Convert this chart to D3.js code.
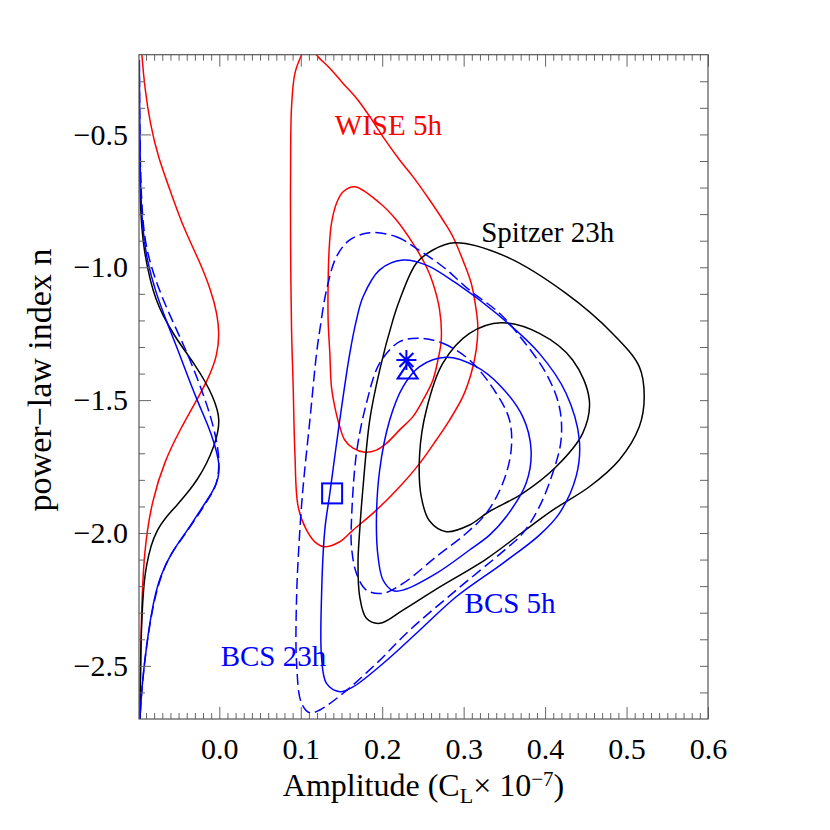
<!DOCTYPE html>
<html><head><meta charset="utf-8">
<script src="https://cdn.jsdelivr.net/npm/d3@7"></script>
<style>body{margin:0;background:#fff} svg{display:block}</style>
</head><body>
<svg id="c" width="830" height="830"></svg>
<script>
// ---------- data ----------
const xDomain = [-0.0986, 0.6];
const yDomain = [-2.7, -0.2];
const xTickValues = [0.0, 0.1, 0.2, 0.3, 0.4, 0.5, 0.6];
const xTickLabels = ["0.0", "0.1", "0.2", "0.3", "0.4", "0.5", "0.6"];
const yTickValues = [-0.5, -1.0, -1.5, -2.0, -2.5];
const yTickLabels = ["\u22120.5", "\u22121.0", "\u22121.5", "\u22122.0", "\u22122.5"];

// 2D confidence contours [amplitude, n]
const wiseOuter = [[0.110,-0.152],[0.101,-0.201],[0.0928,-0.270],[0.0887,-0.396],[0.0875,-0.646],[0.0875,-0.897],[0.0887,-1.236],[0.0907,-1.450],[0.0928,-1.700],[0.0968,-1.901],[0.1071,-1.989],[0.1194,-2.039],[0.1295,-2.052],[0.1479,-2.033],[0.1642,-1.989],[0.1929,-1.914],[0.2214,-1.826],[0.2460,-1.738],[0.2664,-1.650],[0.2827,-1.575],[0.2990,-1.487],[0.3093,-1.399],[0.3154,-1.311],[0.3174,-1.224],[0.3154,-1.161],[0.3093,-1.060],[0.2990,-0.973],[0.2868,-0.885],[0.2745,-0.822],[0.2582,-0.747],[0.2377,-0.659],[0.2214,-0.596],[0.2010,-0.509],[0.1847,-0.433],[0.1684,-0.364],[0.1520,-0.308],[0.1357,-0.251],[0.1194,-0.201]];
const wiseInner = [[0.1663,-0.697],[0.1969,-0.758],[0.2174,-0.822],[0.2377,-0.910],[0.2542,-0.998],[0.2623,-1.060],[0.2705,-1.161],[0.2725,-1.274],[0.2684,-1.349],[0.2623,-1.424],[0.2500,-1.500],[0.2377,-1.562],[0.2214,-1.612],[0.2051,-1.663],[0.1929,-1.688],[0.1786,-1.696],[0.1642,-1.681],[0.1540,-1.650],[0.1479,-1.600],[0.1418,-1.525],[0.1377,-1.450],[0.1357,-1.324],[0.1336,-1.198],[0.1336,-1.060],[0.1348,-0.935],[0.1377,-0.835],[0.1439,-0.759],[0.1520,-0.716]];
const spitzerOuter = [[0.2888,-0.908],[0.3522,-0.960],[0.4257,-1.098],[0.4828,-1.249],[0.5156,-1.374],[0.5217,-1.487],[0.5156,-1.600],[0.4910,-1.725],[0.4543,-1.826],[0.4093,-1.914],[0.3710,-2.000],[0.3277,-2.098],[0.2664,-2.211],[0.2255,-2.290],[0.1969,-2.340],[0.1806,-2.321],[0.1724,-2.240],[0.1703,-2.114],[0.1724,-1.989],[0.1765,-1.826],[0.1847,-1.575],[0.1969,-1.387],[0.2132,-1.198],[0.2214,-1.123],[0.2419,-0.985],[0.2623,-0.935]];
const spitzerInner = [[0.3461,-1.209],[0.3930,-1.249],[0.4338,-1.349],[0.4543,-1.500],[0.4461,-1.625],[0.4135,-1.751],[0.3725,-1.851],[0.3305,-1.921],[0.3072,-1.970],[0.2787,-1.995],[0.2582,-1.955],[0.2480,-1.864],[0.2460,-1.700],[0.2542,-1.537],[0.2745,-1.361],[0.3072,-1.249]];
const bcsSolidOuter = [[0.2255,-0.973],[0.2542,-0.992],[0.2909,-1.060],[0.3400,-1.173],[0.3929,-1.324],[0.4257,-1.474],[0.4420,-1.650],[0.4380,-1.788],[0.4175,-1.926],[0.3930,-2.008],[0.3480,-2.114],[0.2909,-2.240],[0.2460,-2.366],[0.2010,-2.491],[0.1642,-2.579],[0.1479,-2.597],[0.1316,-2.566],[0.1255,-2.466],[0.1255,-2.240],[0.1295,-1.989],[0.1357,-1.851],[0.1479,-1.575],[0.1602,-1.324],[0.1684,-1.198],[0.1765,-1.111],[0.1969,-1.010]];
const bcsDashedOuter = [[0.1847,-0.870],[0.2174,-0.885],[0.2419,-0.929],[0.2745,-0.998],[0.3072,-1.086],[0.3440,-1.173],[0.3725,-1.274],[0.4012,-1.399],[0.4175,-1.525],[0.4196,-1.650],[0.4093,-1.775],[0.3930,-1.901],[0.3725,-2.001],[0.3480,-2.070],[0.2909,-2.215],[0.2337,-2.366],[0.1929,-2.491],[0.1520,-2.603],[0.1234,-2.666],[0.1112,-2.677],[0.1010,-2.641],[0.0949,-2.491],[0.0949,-2.240],[0.0989,-1.989],[0.1029,-1.826],[0.1112,-1.575],[0.1194,-1.324],[0.1234,-1.236],[0.1316,-1.086],[0.1439,-0.960],[0.1602,-0.897]];
const bcsSolidInner = [[0.2787,-1.339],[0.3154,-1.374],[0.3440,-1.443],[0.3725,-1.562],[0.3828,-1.688],[0.3767,-1.813],[0.3522,-1.939],[0.3317,-2.008],[0.3072,-2.064],[0.2664,-2.152],[0.2255,-2.215],[0.2132,-2.217],[0.2010,-2.177],[0.1949,-2.089],[0.1929,-1.951],[0.1969,-1.763],[0.2092,-1.575],[0.2255,-1.450],[0.2460,-1.374]];
const bcsDashedInner = [[0.2460,-1.267],[0.2745,-1.286],[0.3072,-1.349],[0.3400,-1.474],[0.3563,-1.575],[0.3583,-1.688],[0.3480,-1.813],[0.3277,-1.926],[0.3032,-2.001],[0.2664,-2.089],[0.2255,-2.190],[0.2010,-2.227],[0.1806,-2.215],[0.1684,-2.152],[0.1623,-2.052],[0.1623,-1.951],[0.1684,-1.700],[0.1806,-1.512],[0.1969,-1.361],[0.2214,-1.280]];

// 1D marginal distributions of n (drawn along the left margin, peak at amplitude 0)
const wiseMarginal = [[-0.0958,-0.145],[-0.0953,-0.201],[-0.0912,-0.333],[-0.0851,-0.457],[-0.0753,-0.585],[-0.0605,-0.709],[-0.0446,-0.848],[-0.0249,-0.973],[-0.0102,-1.086],[-0.0022,-1.180],[0.0000,-1.251],[-0.0022,-1.330],[-0.0139,-1.424],[-0.0311,-1.518],[-0.0483,-1.612],[-0.0667,-1.725],[-0.0826,-1.876],[-0.0925,-2.064],[-0.0961,-2.328],[-0.0974,-2.700]];
const spitzerMarginal = [[-0.0984,-0.371],[-0.0974,-0.747],[-0.0953,-0.848],[-0.0925,-0.935],[-0.0851,-1.048],[-0.0777,-1.123],[-0.0691,-1.183],[-0.0556,-1.255],[-0.0446,-1.304],[-0.0298,-1.368],[-0.0176,-1.428],[-0.0077,-1.488],[-0.0022,-1.537],[0.0000,-1.575],[-0.0016,-1.620],[-0.0059,-1.669],[-0.0155,-1.740],[-0.0274,-1.801],[-0.0372,-1.842],[-0.0519,-1.895],[-0.0667,-1.944],[-0.0765,-1.989],[-0.0839,-2.045],[-0.0894,-2.120],[-0.0931,-2.196],[-0.0965,-2.403],[-0.0974,-2.700]];
const bcsSolidMarginal = [[-0.0982,-0.220],[-0.0974,-0.672],[-0.0943,-0.860],[-0.0888,-0.973],[-0.0790,-1.086],[-0.0655,-1.199],[-0.0507,-1.311],[-0.0372,-1.424],[-0.0249,-1.518],[-0.0139,-1.594],[-0.0053,-1.669],[-0.0010,-1.725],[0.0000,-1.755],[-0.0010,-1.793],[-0.0065,-1.838],[-0.0225,-1.910],[-0.0397,-1.993],[-0.0593,-2.075],[-0.0728,-2.162],[-0.0814,-2.263],[-0.0891,-2.413],[-0.0953,-2.583],[-0.0974,-2.700]];
const bcsDashedMarginal = [[-0.0982,-0.220],[-0.0974,-0.634],[-0.0937,-0.860],[-0.0863,-0.973],[-0.0740,-1.086],[-0.0581,-1.199],[-0.0409,-1.311],[-0.0262,-1.424],[-0.0151,-1.518],[-0.0077,-1.594],[-0.0022,-1.669],[0.0000,-1.733],[-0.0016,-1.793],[-0.0059,-1.838],[-0.0213,-1.910],[-0.0391,-1.993],[-0.0593,-2.075],[-0.0720,-2.162],[-0.0808,-2.263],[-0.0891,-2.413],[-0.0953,-2.583],[-0.0974,-2.700]];

// best-fit markers
const starPoint = [0.2297, -1.349];
const trianglePoint = [0.2313, -1.390];
const squarePoint = [0.1385, -1.851];

// annotations
const labelTexts = ["WISE 5h", "Spitzer 23h", "BCS 5h", "BCS 23h"];
const labelAnchors = [[0.1418, -0.502], [0.3216, -0.904], [0.3011, -2.300], [0.0017, -2.501]];

// ---------- drawing ----------
const FONT = "'Liberation Serif','Times New Roman',Times,serif";
const L = 139, R = 708, T = 54.7, B = 719;
const svg = d3.select("#c");
const x = d3.scaleLinear().domain(xDomain).range([L, R]);
const y = d3.scaleLinear().domain(yDomain).range([B, T]);

svg.append("defs").append("clipPath").attr("id", "clip")
  .append("rect").attr("x", L).attr("y", T).attr("width", R - L).attr("height", B - T);

const plot = svg.append("g").attr("clip-path", "url(#clip)");
const closed = d3.line().x(d => x(d[0])).y(d => y(d[1])).curve(d3.curveCatmullRomClosed.alpha(0.5));
const open = d3.line().x(d => x(d[0])).y(d => y(d[1])).curve(d3.curveBasis);

const RED = "#ff0000", BLUE = "#0000ff", BLACK = "#000000";
const contours = [
  [wiseOuter, RED, null], [wiseInner, RED, null],
  [spitzerOuter, BLACK, null], [spitzerInner, BLACK, null],
  [bcsDashedOuter, BLUE, "11,5"], [bcsDashedInner, BLUE, "11,5"],
  [bcsSolidOuter, BLUE, null], [bcsSolidInner, BLUE, null]
];
contours.forEach(([pts, col, dash]) => {
  plot.append("path").attr("d", closed(pts)).attr("fill", "none")
    .attr("stroke", col).attr("stroke-width", 1.5)
    .attr("stroke-dasharray", dash);
});
const marginals = [
  [wiseMarginal, RED, null], [spitzerMarginal, BLACK, null],
  [bcsDashedMarginal, BLUE, "11,5"], [bcsSolidMarginal, BLUE, null]
];
marginals.forEach(([pts, col, dash]) => {
  plot.append("path").attr("d", open(pts)).attr("fill", "none")
    .attr("stroke", col).attr("stroke-width", 1.5)
    .attr("stroke-dasharray", dash);
});

// markers
const mk = plot.append("g").attr("stroke", BLUE).attr("stroke-width", 2).attr("fill", "none");
{
  const cx = x(starPoint[0]), cy = y(starPoint[1]), s = 10, d = 7;
  mk.append("path").attr("d",
    `M${cx-s},${cy}H${cx+s}M${cx},${cy-s}V${cy+s}M${cx-d},${cy-d}L${cx+d},${cy+d}M${cx-d},${cy+d}L${cx+d},${cy-d}`);
}
{
  const cx = x(trianglePoint[0]), cy = y(trianglePoint[1]), s = 10;
  mk.append("path").attr("d", `M${cx-s},${cy+7.5}L${cx},${cy-7.5}L${cx+s},${cy+7.5}Z`);
}
{
  const cx = x(squarePoint[0]), cy = y(squarePoint[1]), s = 10;
  mk.append("rect").attr("x", cx - s).attr("y", cy - s).attr("width", 2 * s).attr("height", 2 * s);
}

// labels
const labelColors = [RED, BLACK, BLUE, BLUE];
labelTexts.forEach((t, i) => {
  svg.append("text").attr("x", x(labelAnchors[i][0])).attr("y", y(labelAnchors[i][1]))
    .attr("fill", labelColors[i]).attr("font-family", FONT).attr("font-size", 29).text(t);
});

// axes
const TICKC = "#666";
function styleAxis(g) {
  g.select(".domain").remove();
  g.selectAll("line").attr("stroke", TICKC).attr("stroke-width", 1);
  g.selectAll("text").attr("font-family", FONT).attr("font-size", 30).attr("fill", "#000");
}
const xMinor = d3.range(-9, 61).map(i => i / 100).filter(v => Math.abs(v * 10 - Math.round(v * 10)) > 1e-6);
const yMinor = d3.range(-26, -2).map(i => i / 10).filter(v => Math.abs(v * 2 - Math.round(v * 2)) > 1e-6);
const yAll = d3.range(-26, -2).map(i => i / 10);

svg.append("g").attr("transform", `translate(0,${B})`)
  .call(d3.axisBottom(x).tickValues(xTickValues).tickSize(-12).tickPadding(19)
    .tickFormat((d, i) => xTickLabels[i])).call(styleAxis);
svg.append("g").attr("transform", `translate(0,${B})`)
  .call(d3.axisBottom(x).tickValues(xMinor).tickSize(-6).tickFormat("")).call(styleAxis);
svg.append("g").attr("transform", `translate(0,${T})`)
  .call(d3.axisTop(x).tickValues(xTickValues).tickSize(-12).tickFormat("")).call(styleAxis);
svg.append("g").attr("transform", `translate(0,${T})`)
  .call(d3.axisTop(x).tickValues(xMinor).tickSize(-6).tickFormat("")).call(styleAxis);

svg.append("g").attr("transform", `translate(${L},0)`)
  .call(d3.axisLeft(y).tickValues(yTickValues).tickSize(-12).tickPadding(11)
    .tickFormat((d, i) => yTickLabels[i])).call(styleAxis);
svg.append("g").attr("transform", `translate(${L},0)`)
  .call(d3.axisLeft(y).tickValues(yMinor).tickSize(-6).tickFormat("")).call(styleAxis);
svg.append("g").attr("transform", `translate(${R},0)`)
  .call(d3.axisRight(y).tickValues(yAll).tickSize(-8).tickFormat("")).call(styleAxis);

svg.append("rect").attr("x", L).attr("y", T).attr("width", R - L).attr("height", B - T)
  .attr("fill", "none").attr("stroke", "#555").attr("stroke-width", 1.2);

// axis titles
const xt = svg.append("text").attr("x", (L + R) / 2).attr("y", 796).attr("text-anchor", "middle")
  .attr("font-family", FONT).attr("font-size", 32).attr("fill", "#000");
xt.append("tspan").text("Amplitude (C");
xt.append("tspan").attr("dy", 7).attr("font-size", 22).text("L");
xt.append("tspan").attr("dy", -7).text("\u00d7 10");
xt.append("tspan").attr("dy", -10).attr("font-size", 21).text("\u22127");
xt.append("tspan").attr("dy", 10).text(")");

svg.append("text").attr("transform", `translate(51,380) rotate(-90)`)
  .attr("text-anchor", "middle").attr("font-family", FONT).attr("font-size", 34).attr("fill", "#000")
  .text("power\u2212law index n");
</script>
</body></html>
